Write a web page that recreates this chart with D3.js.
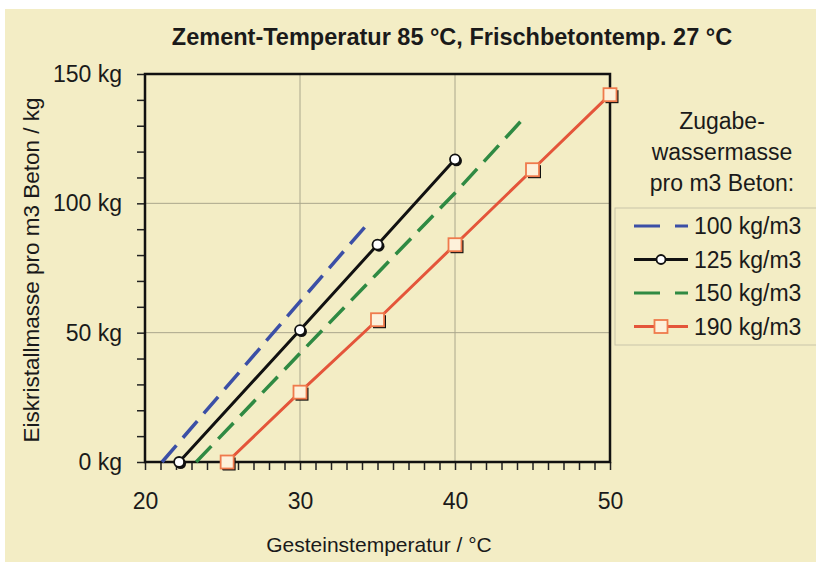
<!DOCTYPE html>
<html>
<head>
<meta charset="utf-8">
<script src="https://cdn.jsdelivr.net/npm/d3@7"></script>
<style>
  body { margin: 0; background: #fff; }
  text { font-family: "Liberation Sans", Arial, sans-serif; fill: #1a1a1a; }
</style>
</head>
<body>
<div id="chart"></div>
<script>
// data
const series100 = [[21.1, 0], [30, 62], [34.5, 93]];
const series125 = [[22.2, 0], [30, 51], [35, 84], [40, 117]];
const series150 = [[23.3, 0], [30, 42], [35, 73], [40, 104], [44.6, 134]];
const series190 = [[25.3, 0], [30, 27], [35, 55], [40, 84], [45, 113], [50, 142]];
const seriesNames = ["100 kg/m3", "125 kg/m3", "150 kg/m3", "190 kg/m3"];
const xTicks = [20, 30, 40, 50];
const yTicks = [0, 50, 100, 150];
const legendTitle = ["Zugabe-", "wassermasse", "pro m3 Beton:"];

const W = 816, H = 562;
const svg = d3.select("#chart").append("svg")
  .attr("width", W).attr("height", H);

// beige panel
svg.append("rect").attr("x", 5).attr("y", 9)
  .attr("width", W - 5).attr("height", H - 9).attr("fill", "#f3edc5");

const x = d3.scaleLinear().domain([20, 50]).range([145, 610]);
const y = d3.scaleLinear().domain([0, 150]).range([462, 74]);

// grid
svg.append("g").selectAll("line").data(xTicks.slice(1, -1)).join("line")
  .attr("x1", d => x(d)).attr("x2", d => x(d))
  .attr("y1", y(0)).attr("y2", y(150))
  .attr("stroke", "#aaa78c").attr("stroke-width", 1);
svg.append("g").selectAll("line").data(yTicks.slice(1, -1)).join("line")
  .attr("y1", d => y(d)).attr("y2", d => y(d))
  .attr("x1", x(20)).attr("x2", x(50))
  .attr("stroke", "#aaa78c").attr("stroke-width", 1);

// minor ticks
svg.append("g").attr("transform", `translate(0,${y(0)})`)
  .call(d3.axisBottom(x).tickValues(d3.range(20, 51, 1)).tickSize(8).tickFormat(""))
  .call(g => g.select(".domain").remove())
  .selectAll("line").attr("stroke", "#222").attr("stroke-width", 1.5);
svg.append("g").attr("transform", `translate(${x(20)},0)`)
  .call(d3.axisLeft(y).tickValues(d3.range(0, 151, 10)).tickSize(8).tickFormat(""))
  .call(g => g.select(".domain").remove())
  .selectAll("line").attr("stroke", "#222").attr("stroke-width", 1.5);

// labels
svg.append("g").attr("transform", `translate(0,${y(0)})`)
  .call(d3.axisBottom(x).tickValues(xTicks).tickSize(0).tickPadding(31))
  .call(g => g.select(".domain").remove())
  .selectAll("text").attr("font-size", 23).attr("fill", "#1a1a1a")
  .attr("font-family", "Liberation Sans, Arial, sans-serif");
svg.append("g").attr("transform", `translate(${x(20)},0)`)
  .call(d3.axisLeft(y).tickValues(yTicks).tickSize(0).tickPadding(23).tickFormat(d => d + " kg"))
  .call(g => g.select(".domain").remove())
  .selectAll("text").attr("font-size", 23).attr("fill", "#1a1a1a")
  .attr("font-family", "Liberation Sans, Arial, sans-serif");

// frame
svg.append("rect").attr("x", x(20)).attr("y", y(150))
  .attr("width", x(50) - x(20)).attr("height", y(0) - y(150))
  .attr("fill", "none").attr("stroke", "#111").attr("stroke-width", 2.5);

// titles
svg.append("text").attr("x", 452).attr("y", 45).attr("text-anchor", "middle")
  .attr("font-size", 23.5).attr("font-weight", "bold").text("Zement-Temperatur 85 °C, Frischbetontemp. 27 °C");
svg.append("text").attr("x", 379).attr("y", 552).attr("text-anchor", "middle")
  .attr("font-size", 21).text("Gesteinstemperatur / °C");
svg.append("text").attr("transform", "translate(39,270) rotate(-90)").attr("text-anchor", "middle")
  .attr("font-size", 22.5).text("Eiskristallmasse pro m3 Beton / kg");

const line = d3.line().x(d => x(d[0])).y(d => y(d[1]));

const styles = [
  {data: series100, color: "#3b4fa6", dash: "22,10", width: 3.5, marker: null},
  {data: series125, color: "#111111", dash: null, width: 3, marker: "circle"},
  {data: series150, color: "#2f8a43", dash: "22,10", width: 3.5, marker: null},
  {data: series190, color: "#e4553a", dash: null, width: 3, marker: "square"}
];

styles.forEach(s => {
  svg.append("path").datum(s.data).attr("d", line)
    .attr("fill", "none").attr("stroke", s.color).attr("stroke-width", s.width)
    .attr("stroke-dasharray", s.dash);
});

function drawMarker(g, type, cx, cy, color) {
  if (type === "circle") {
    g.append("circle").attr("cx", cx + 1.5).attr("cy", cy + 1.5).attr("r", 5.5).attr("fill", "#111");
    g.append("circle").attr("cx", cx).attr("cy", cy).attr("r", 5)
      .attr("fill", "#fff").attr("stroke", color).attr("stroke-width", 1.8);
  } else if (type === "square") {
    g.append("rect").attr("x", cx - 6.5 + 2).attr("y", cy - 6.5 + 2).attr("width", 13).attr("height", 13).attr("fill", "#111");
    g.append("rect").attr("x", cx - 6.5).attr("y", cy - 6.5).attr("width", 13).attr("height", 13)
      .attr("fill", "#fdf1da").attr("stroke", "#ef7a4c").attr("stroke-width", 1.8);
  }
}

styles.forEach(s => {
  if (!s.marker) return;
  const g = svg.append("g");
  s.data.forEach(d => drawMarker(g, s.marker, x(d[0]), y(d[1]), s.color));
});

// legend
legendTitle.forEach((t, i) => {
  svg.append("text").attr("x", 722).attr("y", 129 + i * 31).attr("text-anchor", "middle")
    .attr("font-size", 23).text(t);
});
svg.append("rect").attr("x", 615).attr("y", 208).attr("width", 205).attr("height", 137)
  .attr("fill", "none").attr("stroke", "#c9c5aa").attr("stroke-width", 1);

styles.forEach((s, i) => {
  const ly = 226 + i * 33.5;
  svg.append("line").attr("x1", 634).attr("x2", 688).attr("y1", ly).attr("y2", ly)
    .attr("stroke", s.color).attr("stroke-width", s.dash ? 3 : 3)
    .attr("stroke-dasharray", s.dash ? "26,15" : null);
  const g = svg.append("g");
  if (s.marker === "circle") {
    g.append("circle").attr("cx", 661).attr("cy", ly).attr("r", 4.5)
      .attr("fill", "#fff").attr("stroke", s.color).attr("stroke-width", 1.8);
  } else if (s.marker === "square") {
    g.append("rect").attr("x", 654.5).attr("y", ly - 6.5).attr("width", 13).attr("height", 13)
      .attr("fill", "#fdf1da").attr("stroke", "#ef7a4c").attr("stroke-width", 1.8);
  }
  svg.append("text").attr("x", 694).attr("y", ly + 8).attr("font-size", 23).text(seriesNames[i]);
});
</script>
</body>
</html>
